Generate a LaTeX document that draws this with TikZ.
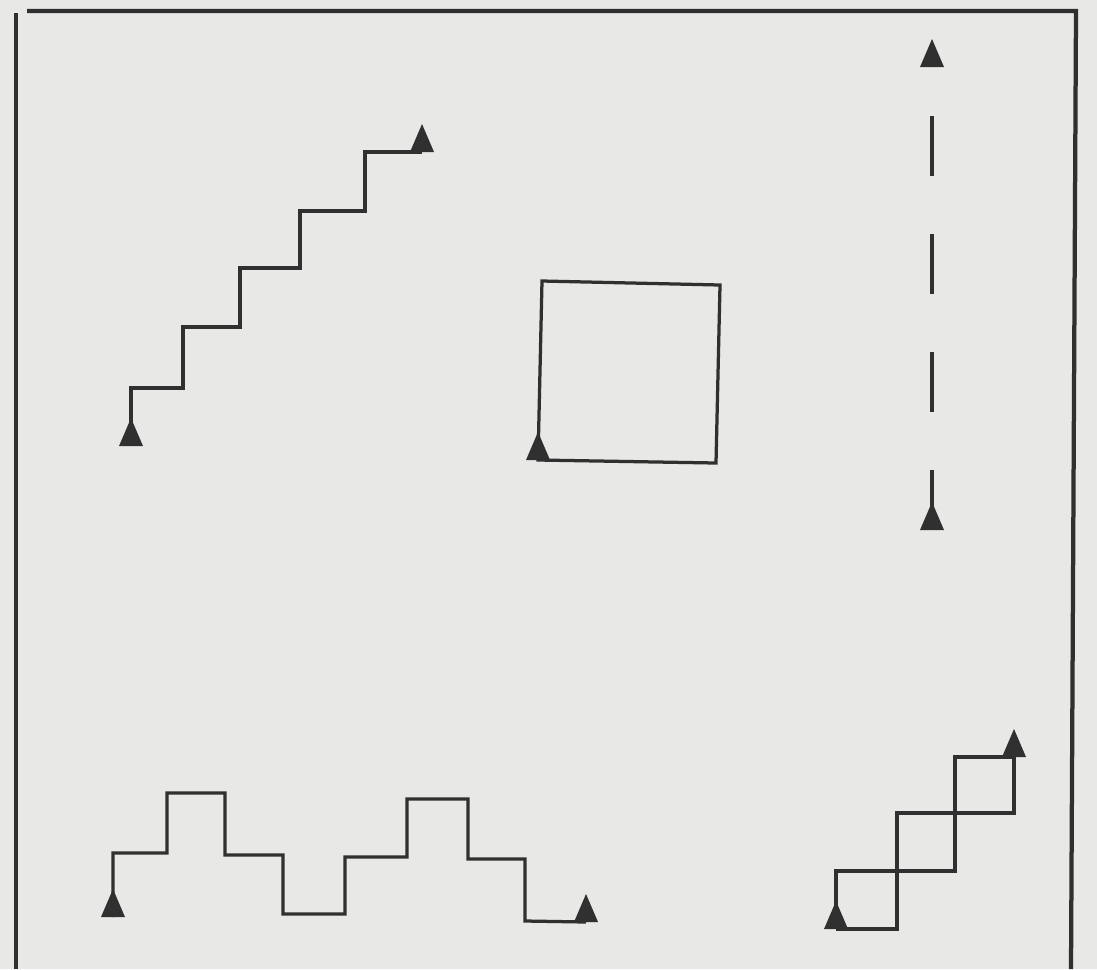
\documentclass[tikz,border=0pt]{standalone}
\usepackage{tikz}

\definecolor{paper}{HTML}{E8E8E6}
\definecolor{ink}{HTML}{303030}

\begin{document}
\begin{tikzpicture}[
    x=0.2mm,y=-0.2mm,
    trail/.style={draw=ink,line width=0.65mm},
    frameline/.style={draw=ink,line width=0.85mm},
    turtle/.pic={\fill[ink] (-12,0) -- (0,-28) -- (12,0) -- cycle;}
]
\fill[paper] (0,0) rectangle (1097,969);
\useasboundingbox (0,0) rectangle (1097,969);

% frame
\coordinate (fbl) at (16,969);
\coordinate (ftl) at (16,13);
\coordinate (ftl2) at (27,11);
\coordinate (ftr) at (1076,11);
\coordinate (fbr) at (1071,969);
\draw[frameline] (fbl) -- (ftl);
\draw[frameline] (ftl2) -- (ftr) -- (fbr);

% staircase
\coordinate (stairA) at (131,446);
\coordinate (stairB) at (422,152);
\draw[trail] (stairA) -- (131,388) -- (183,388) -- (183,327) -- (240,327)
    -- (240,268) -- (300,268) -- (300,211) -- (365,211) -- (365,152) -- (stairB);
\pic at (stairA) {turtle};
\pic at (stairB) {turtle};

% square
\coordinate (sqA) at (538,460);
\draw[trail] (sqA) -- (542,281) -- (720,285) -- (716,463) -- cycle;
\pic at (sqA) {turtle};

% dashed line
\coordinate (dashA) at (932,530);
\coordinate (dashB) at (932,67);
\coordinate (dashC) at (932,116);
\draw[trail,dash pattern=on 12mm off 11.6mm] (dashA) -- (dashC);
\pic at (dashA) {turtle};
\pic at (dashB) {turtle};

% square wave
\coordinate (waveA) at (113,917);
\coordinate (waveB) at (586,922);
\draw[trail] (waveA) -- (113,853) -- (167,853) -- (167,793) -- (225,793)
    -- (225,855) -- (283,855) -- (283,914) -- (345,914) -- (345,857)
    -- (407,857) -- (407,799) -- (468,799) -- (468,859) -- (525,859)
    -- (525,921) -- (waveB);
\pic at (waveA) {turtle};
\pic at (waveB) {turtle};

% crossing stairs
\coordinate (crossA) at (836,929);
\coordinate (crossB) at (1014,757);
\draw[trail] (crossA) -- (836,871) -- (955,871) -- (955,757) -- (crossB);
\draw[trail] (crossA) -- (897,929) -- (897,813) -- (1014,813) -- (crossB);
\pic at (crossA) {turtle};
\pic at (crossB) {turtle};
\end{tikzpicture}
\end{document}
